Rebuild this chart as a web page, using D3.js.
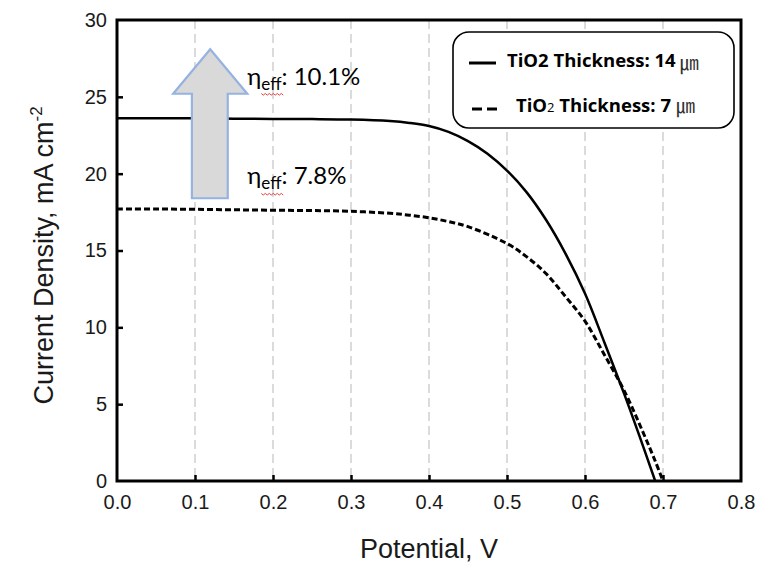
<!DOCTYPE html>
<html>
<head>
<meta charset="utf-8">
<script src="https://cdn.jsdelivr.net/npm/d3@7"></script>
<style>
  html, body { margin: 0; padding: 0; background: #fff; }
  svg { display: block; }
</style>
</head>
<body>
<svg id="chart" width="777" height="571"></svg>
<script>
// ---------------- data ----------------
const xTicks = [0.0, 0.1, 0.2, 0.3, 0.4, 0.5, 0.6, 0.7, 0.8];
const yTicks = [0, 5, 10, 15, 20, 25, 30];
const gridX = [0.1, 0.2, 0.3, 0.4, 0.5, 0.6, 0.7];

const potential14 = [0, 0.05, 0.1, 0.15, 0.2, 0.25, 0.3, 0.35, 0.375, 0.4, 0.425, 0.45, 0.475, 0.5, 0.525, 0.55, 0.575, 0.6, 0.625, 0.65, 0.67, 0.69];
const current14   = [23.6, 23.6, 23.6, 23.58, 23.56, 23.55, 23.52, 23.42, 23.3, 23.1, 22.72, 22.12, 21.3, 20.2, 18.8, 17.0, 14.8, 12.2, 9.0, 5.7, 2.9, 0];

const potential7 = [0, 0.05, 0.1, 0.15, 0.2, 0.25, 0.3, 0.35, 0.375, 0.4, 0.425, 0.45, 0.5, 0.525, 0.55, 0.575, 0.6, 0.625, 0.65, 0.675, 0.69, 0.7];
const current7   = [17.7, 17.7, 17.68, 17.65, 17.62, 17.6, 17.55, 17.42, 17.3, 17.13, 16.88, 16.55, 15.45, 14.6, 13.5, 12.0, 10.4, 8.2, 5.9, 3.1, 1.3, 0];

const legendLabels = ["TiO2 Thickness: 14", "TiO₂ Thickness: 7"];
const effLabels = ["10.1%", "7.8%"];
const effPos = [[0.167, 25.8], [0.167, 19.3]];   // annotation anchor (V, J)
// block arrow (V, J)
const arrowTip = [0.1195, 28.1];
const arrowHeadBase = 25.2, arrowHeadL = 0.072, arrowHeadR = 0.167, arrowShaftL = 0.096, arrowShaftR = 0.142, arrowBottom = 18.4;

// ---------------- layout ----------------
const svg = d3.select("#chart");
const L = 117, R = 741, T = 20, B = 481;
const x = d3.scaleLinear().domain([0, 0.8]).range([L, R]);
const y = d3.scaleLinear().domain([0, 30]).range([B, T]);

// grid
svg.append("g").selectAll("line").data(gridX).join("line")
  .attr("x1", d => x(d)).attr("x2", d => x(d))
  .attr("y1", T).attr("y2", B)
  .attr("stroke", "#c4c4c4").attr("stroke-width", 1.2)
  .attr("stroke-dasharray", "9,5");

// axes (ticks inward)
const xAxis = d3.axisBottom(x).tickValues(xTicks).tickFormat(d3.format(".1f")).tickSizeInner(-6).tickSizeOuter(0).tickPadding(14);
const yAxis = d3.axisLeft(y).tickValues(yTicks).tickFormat(d3.format("d")).tickSizeInner(-6).tickSizeOuter(0).tickPadding(10);

const gx = svg.append("g").attr("transform", `translate(0,${B})`).call(xAxis);
const gy = svg.append("g").attr("transform", `translate(${L},0)`).call(yAxis);
[gx, gy].forEach(g => {
  g.select(".domain").remove();
  g.selectAll(".tick line").attr("stroke", "#000").attr("stroke-width", 2.5);
  g.selectAll(".tick text").attr("fill", "#1a1a1a")
    .style("font-family", "'Liberation Sans', Arial, sans-serif").style("font-size", "20px");
});
gx.selectAll(".tick line").filter(d => d === 0 || d === 0.8).remove();
gy.selectAll(".tick line").filter(d => d === 0 || d === 30).remove();

// curves
const line = d3.line().x(d => x(d[0])).y(d => y(d[1])).curve(d3.curveCatmullRom.alpha(0.5));
const data14 = potential14.map((v, i) => [v, current14[i]]);
const data7 = potential7.map((v, i) => [v, current7[i]]);

svg.append("path").datum(data7).attr("d", line)
  .attr("fill", "none").attr("stroke", "#000").attr("stroke-width", 3)
  .attr("stroke-dasharray", "6,3");
svg.append("path").datum(data14).attr("d", line)
  .attr("fill", "none").attr("stroke", "#000").attr("stroke-width", 2.5);

// frame
svg.append("rect").attr("x", L).attr("y", T).attr("width", R - L).attr("height", B - T)
  .attr("fill", "none").attr("stroke", "#000").attr("stroke-width", 3);

// arrow
const arrowPts = [
  [arrowTip[0], arrowTip[1]],
  [arrowHeadR, arrowHeadBase],
  [arrowShaftR, arrowHeadBase],
  [arrowShaftR, arrowBottom],
  [arrowShaftL, arrowBottom],
  [arrowShaftL, arrowHeadBase],
  [arrowHeadL, arrowHeadBase]
];
svg.append("polygon")
  .attr("points", arrowPts.map(p => [x(p[0]), y(p[1])].join(",")).join(" "))
  .attr("fill", "#d9d9d9").attr("stroke", "#95b3e0").attr("stroke-width", 2.2)
  .attr("stroke-linejoin", "miter");

// efficiency annotations
effLabels.forEach((lab, i) => {
  const t = svg.append("text")
    .attr("x", x(effPos[i][0])).attr("y", y(effPos[i][1]))
    .style("font-family", "Lato, 'Open Sans', sans-serif").style("font-size", "24px").attr("fill", "#000");
  t.append("tspan").text("η");
  t.append("tspan").attr("dy", 5).style("font-size", "17px").text("eff");
  t.append("tspan").attr("dy", -5).text(": " + lab);
  const node = t.node();
  const x0 = node.getStartPositionOfChar(1).x;
  const x1 = node.getEndPositionOfChar(3).x;
  const yy = y(effPos[i][1]) + 9;
  let d = `M${x0},${yy}`;
  for (let xx = x0, k = 0; xx < x1; xx += 2, k++) d += ` L${xx + 2},${yy + (k % 2 ? 0 : 1.6)}`;
  svg.append("path").attr("d", d).attr("fill", "none").attr("stroke", "#e03030").attr("stroke-width", 0.9);
});

// legend
const lg = svg.append("g");
lg.append("rect").attr("x", 453).attr("y", 32).attr("width", 281).attr("height", 96)
  .attr("rx", 16).attr("ry", 16).attr("fill", "#fff").attr("stroke", "#000").attr("stroke-width", 1.6);
lg.append("line").attr("x1", 469).attr("x2", 496).attr("y1", 63).attr("y2", 63)
  .attr("stroke", "#000").attr("stroke-width", 3);
lg.append("line").attr("x1", 472).attr("x2", 500).attr("y1", 109).attr("y2", 109)
  .attr("stroke", "#000").attr("stroke-width", 3).attr("stroke-dasharray", "10,5");

const t1 = lg.append("text").attr("x", 507).attr("y", 67)
  .style("font-family", "'Open Sans', sans-serif").style("font-weight", "bold").style("font-size", "18.5px");
t1.append("tspan").text(legendLabels[0]);
t1.append("tspan").attr("dx", 4).attr("dy", 3).style("font-family", "'Noto Sans CJK KR'").style("font-weight", "normal").style("font-size", "19px").attr("fill", "#333").text("㎛");

const t2 = lg.append("text").attr("x", 516).attr("y", 112)
  .style("font-family", "'Open Sans', sans-serif").style("font-weight", "bold").style("font-size", "18.5px");
t2.append("tspan").text("TiO");
t2.append("tspan").style("font-size", "13px").style("font-weight", "normal").text("2");
t2.append("tspan").text(" Thickness: 7");
t2.append("tspan").attr("dx", 5).attr("dy", 1).style("font-family", "'Noto Sans CJK KR'").style("font-weight", "normal").style("font-size", "19px").attr("fill", "#333").text("㎛");

// axis titles
svg.append("text").attr("x", (L + R) / 2).attr("y", 558).attr("text-anchor", "middle")
  .style("font-family", "'Liberation Sans', Arial, sans-serif").style("font-size", "27px").attr("fill", "#1a1a1a")
  .text("Potential, V");

const yt = svg.append("text").attr("transform", `translate(53,${(T + B) / 2 + 5}) rotate(-90)`).attr("text-anchor", "middle")
  .style("font-family", "'Liberation Sans', Arial, sans-serif").style("font-size", "27px").attr("fill", "#1a1a1a");
yt.append("tspan").text("Current Density, mA cm");
yt.append("tspan").attr("dy", -11).style("font-size", "17px").text("-2");
</script>
</body>
</html>
